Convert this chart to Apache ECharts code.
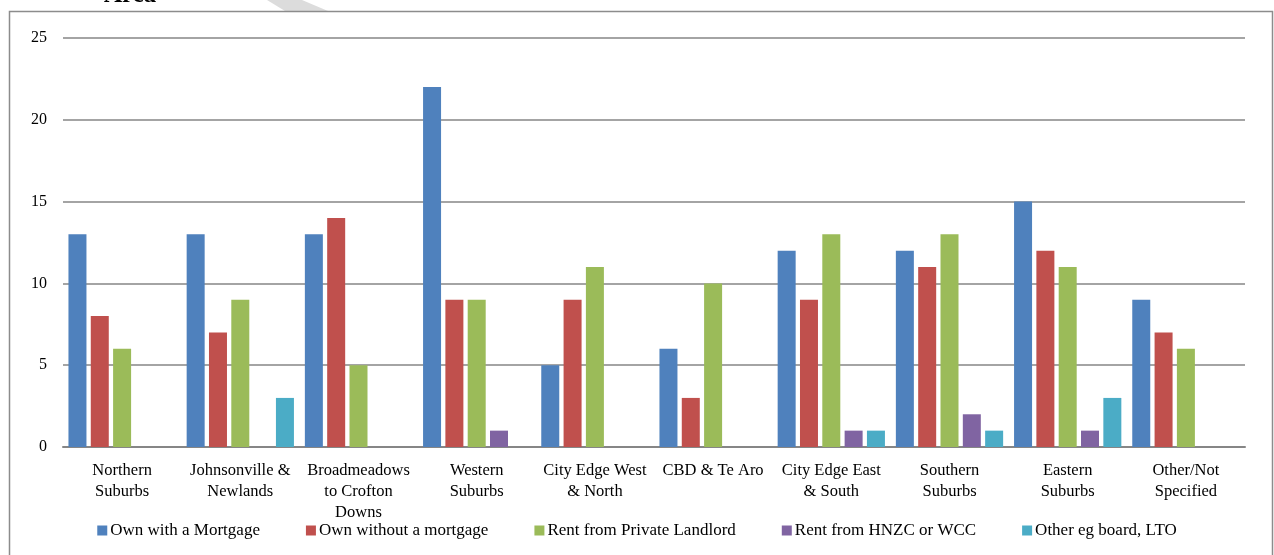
<!DOCTYPE html>
<html>
<head>
<meta charset="utf-8">
<script src="https://cdn.jsdelivr.net/npm/echarts@6/dist/echarts.min.js"></script>
<style>
  html, body { margin: 0; padding: 0; background: #fff; }
  #chart { width: 1274px; height: 555px; }
</style>
</head>
<body>
<div id="chart"></div>
<script>
const categories = [
  'Northern\nSuburbs',
  'Johnsonville &\nNewlands',
  'Broadmeadows\nto Crofton\nDowns',
  'Western\nSuburbs',
  'City Edge West\n& North',
  'CBD & Te Aro',
  'City Edge East\n& South',
  'Southern\nSuburbs',
  'Eastern\nSuburbs',
  'Other/Not\nSpecified'
];
const ownMortgage = [13, 13, 13, 22, 5, 6, 12, 12, 15, 9];
const ownNoMortgage = [8, 7, 14, 9, 9, 3, 9, 11, 12, 7];
const rentPrivate = [6, 9, 5, 9, 11, 10, 13, 13, 11, 6];
const rentHnzc = [0, 0, 0, 1, 0, 0, 1, 2, 1, 0];
const otherBoard = [0, 3, 0, 0, 0, 0, 1, 1, 3, 0];
const yTicks = [0, 5, 10, 15, 20, 25];

const font = '"Liberation Serif", "DejaVu Serif", serif';

const chart = echarts.init(document.getElementById('chart'));

function bar(name, data, color) {
  return {
    name: name,
    type: 'bar',
    data: data,
    barWidth: 18,
    barGap: '24%',
    itemStyle: { color: color },
    emphasis: { disabled: true }
  };
}

chart.setOption({
  animation: false,
  textStyle: { fontFamily: font },
  grid: { left: 63, right: 29, top: 38, bottom: 108 },
  graphic: [
    {
      type: 'polygon',
      shape: { points: [[267, 0], [302, 0], [328, 11], [285, 11]] },
      style: { fill: '#dcdcdc' },
      z: -1
    },
    {
      type: 'text',
      style: {
        text: 'Area',
        x: 104,
        y: -17,
        font: 'bold 25px ' + font,
        fill: '#000'
      }
    },
    {
      type: 'rect',
      shape: { x: 9.5, y: 11.5, width: 1263, height: 560 },
      style: { fill: 'none', stroke: '#8c8c8c', lineWidth: 1.5 },
      silent: true
    }
  ],
  legend: {
    bottom: 11,
    left: 'center',
    itemWidth: 10,
    itemHeight: 10,
    itemGap: 46,
    icon: 'rect',
    textStyle: { fontFamily: font, fontSize: 17, color: '#000', padding: [0, 0, 0, -2] },
    data: ['Own with a Mortgage', 'Own without a mortgage', 'Rent from Private Landlord', 'Rent from HNZC or WCC', 'Other eg board, LTO']
  },
  xAxis: {
    type: 'category',
    data: categories,
    axisTick: { show: false },
    axisLine: { lineStyle: { color: '#868686', width: 2 } },
    axisLabel: {
      interval: 0,
      fontFamily: font,
      fontSize: 16.5,
      color: '#000',
      lineHeight: 21,
      margin: 13
    }
  },
  yAxis: {
    type: 'value',
    min: yTicks[0],
    max: yTicks[yTicks.length - 1],
    interval: 5,
    axisLine: { show: false },
    axisTick: { show: false },
    axisLabel: { fontFamily: font, fontSize: 16, color: '#000', margin: 16 },
    splitLine: { lineStyle: { color: '#868686', width: 1.5 } }
  },
  series: [
    bar('Own with a Mortgage', ownMortgage, '#4F81BD'),
    bar('Own without a mortgage', ownNoMortgage, '#C0504D'),
    bar('Rent from Private Landlord', rentPrivate, '#9BBB59'),
    bar('Rent from HNZC or WCC', rentHnzc, '#8064A2'),
    bar('Other eg board, LTO', otherBoard, '#4BACC6')
  ]
});
</script>
</body>
</html>
